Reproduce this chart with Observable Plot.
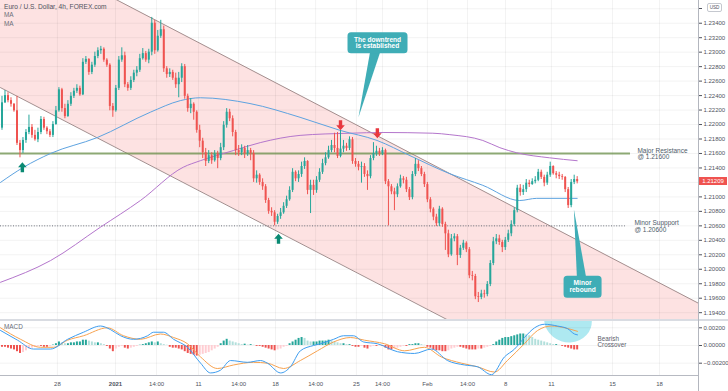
<!DOCTYPE html>
<html><head><meta charset="utf-8">
<script src="https://cdn.jsdelivr.net/npm/d3@7"></script>
<script src="https://cdn.jsdelivr.net/npm/@observablehq/plot@0.6"></script>
<style>
html,body{margin:0;padding:0;background:#fff;}
#wrap{position:relative;width:728px;height:391px;overflow:hidden;font-family:"Liberation Sans",Arial,sans-serif;}
#wrap svg{position:absolute;left:0;}
.lbl{position:absolute;white-space:nowrap;line-height:1;}
</style></head><body>
<div id="wrap"></div>
<script>
// ---------- DATA ----------
const firstOpen = 1.2195;
const closes = [
1.2230,1.2240,1.2233,1.2228,1.2219,1.2174,1.2164,1.2178,1.2189,1.2196,
1.2185,1.2179,1.2189,1.2207,1.2195,1.2190,1.2185,1.2200,1.2219,1.2248,
1.2222,1.2211,1.2228,1.2239,1.2246,1.2250,1.2241,1.2286,1.2290,1.2272,
1.2282,1.2294,1.2302,1.2304,1.2289,1.2282,1.2225,1.2219,1.2250,1.2289,
1.2295,1.2255,1.2250,1.2261,1.2271,1.2275,1.2291,1.2298,1.2289,1.2300,
1.2340,1.2302,1.2322,1.2331,1.2277,1.2269,1.2272,1.2264,1.2255,1.2264,
1.2280,1.2239,1.2222,1.2228,1.2217,1.2192,1.2177,1.2161,1.2149,1.2157,
1.2150,1.2159,1.2153,1.2168,1.2199,1.2217,1.2208,1.2189,1.2164,1.2161,
1.2167,1.2160,1.2164,1.2160,1.2125,1.2130,1.2120,1.2114,1.2095,1.2080,
1.2078,1.2065,1.2073,1.2078,1.2087,1.2096,1.2109,1.2134,1.2125,1.2131,
1.2142,1.2149,1.2109,1.2116,1.2109,1.2123,1.2134,1.2146,1.2154,1.2164,
1.2171,1.2167,1.2156,1.2166,1.2170,1.2167,1.2179,1.2149,1.2145,1.2141,
1.2142,1.2131,1.2128,1.2153,1.2160,1.2163,1.2160,1.2164,1.2121,1.2114,
1.2107,1.2103,1.2114,1.2125,1.2123,1.2110,1.2099,1.2131,1.2145,1.2139,
1.2131,1.2117,1.2096,1.2083,1.2072,1.2063,1.2083,1.2062,1.2049,1.2020,
1.2042,1.2045,1.2019,1.2029,1.2036,1.2027,1.1991,1.1990,1.1962,1.1961,
1.1966,1.1965,1.1979,1.2008,1.2038,1.2042,1.2037,1.2030,1.2040,1.2049,
1.2062,1.2081,1.2112,1.2106,1.2110,1.2119,1.2117,1.2121,1.2123,1.2134,
1.2127,1.2119,1.2130,1.2142,1.2132,1.2130,1.2128,1.2127,1.2110,1.2088,
1.2120,1.2124,1.21209];
const highs = [
1.2239,1.2247,1.2244,1.2237,1.2229,1.2239,1.2178,1.2182,1.2193,1.2213,
1.2200,1.2192,1.2195,1.2211,1.2210,1.2197,1.2193,1.2204,1.2225,1.2251,
1.2250,1.2228,1.2233,1.2244,1.2250,1.2255,1.2253,1.2291,1.2294,1.2291,
1.2286,1.2300,1.2306,1.2308,1.2306,1.2291,1.2284,1.2229,1.2254,1.2294,
1.2306,1.2300,1.2258,1.2266,1.2275,1.2280,1.2297,1.2305,1.2301,1.2304,
1.2348,1.2344,1.2330,1.2344,1.2336,1.2280,1.2277,1.2275,1.2271,1.2272,
1.2284,1.2283,1.2242,1.2236,1.2230,1.2219,1.2199,1.2181,1.2167,1.2164,
1.2161,1.2164,1.2163,1.2174,1.2204,1.2222,1.2221,1.2212,1.2192,1.2171,
1.2172,1.2170,1.2171,1.2167,1.2164,1.2136,1.2132,1.2125,1.2117,1.2098,
1.2085,1.2081,1.2076,1.2084,1.2092,1.2101,1.2114,1.2139,1.2136,1.2136,
1.2148,1.2154,1.2150,1.2123,1.2123,1.2128,1.2139,1.2152,1.2161,1.2170,
1.2178,1.2188,1.2189,1.2192,1.2178,1.2174,1.2183,1.2182,1.2153,1.2149,
1.2148,1.2146,1.2136,1.2157,1.2175,1.2170,1.2167,1.2168,1.2166,1.2124,
1.2117,1.2112,1.2118,1.2130,1.2128,1.2127,1.2113,1.2135,1.2153,1.2150,
1.2142,1.2134,1.2120,1.2099,1.2085,1.2076,1.2087,1.2085,1.2065,1.2054,
1.2048,1.2049,1.2048,1.2033,1.2040,1.2038,1.2030,1.1997,1.1993,1.1968,
1.1971,1.1971,1.1983,1.2012,1.2044,1.2048,1.2047,1.2040,1.2044,1.2054,
1.2067,1.2085,1.2116,1.2117,1.2116,1.2124,1.2123,1.2125,1.2128,1.2138,
1.2137,1.2130,1.2134,1.2148,1.2143,1.2135,1.2134,1.2131,1.2128,1.2113,
1.2124,1.2130,1.2128];
const lows = [
1.2192,1.2229,1.2230,1.2224,1.2217,1.2171,1.2154,1.2160,1.2174,1.2186,
1.2181,1.2177,1.2175,1.2186,1.2192,1.2186,1.2182,1.2182,1.2199,1.2217,
1.2217,1.2208,1.2210,1.2225,1.2236,1.2243,1.2239,1.2240,1.2283,1.2268,
1.2269,1.2279,1.2291,1.2297,1.2286,1.2279,1.2219,1.2210,1.2217,1.2247,
1.2286,1.2251,1.2246,1.2247,1.2258,1.2266,1.2272,1.2289,1.2286,1.2284,
1.2295,1.2297,1.2300,1.2319,1.2272,1.2264,1.2265,1.2261,1.2250,1.2237,
1.2258,1.2235,1.2217,1.2215,1.2206,1.2188,1.2168,1.2153,1.2142,1.2146,
1.2145,1.2148,1.2139,1.2150,1.2164,1.2195,1.2204,1.2183,1.2157,1.2156,
1.2157,1.2153,1.2156,1.2150,1.2120,1.2119,1.2116,1.2109,1.2091,1.2076,
1.2073,1.2060,1.2062,1.2069,1.2076,1.2084,1.2094,1.2106,1.2121,1.2120,
1.2127,1.2138,1.2103,1.2077,1.2102,1.2105,1.2120,1.2131,1.2143,1.2152,
1.2161,1.2161,1.2153,1.2154,1.2161,1.2163,1.2164,1.2145,1.2141,1.2136,
1.2119,1.2127,1.2109,1.2125,1.2150,1.2156,1.2156,1.2157,1.2117,1.2060,
1.2103,1.2081,1.2099,1.2112,1.2118,1.2106,1.2095,1.2096,1.2128,1.2135,
1.2128,1.2113,1.2092,1.2078,1.2067,1.2059,1.2059,1.2058,1.2026,1.2016,
1.2018,1.2038,1.2005,1.2015,1.2026,1.2023,1.1987,1.1984,1.1958,1.1954,
1.1958,1.1960,1.1962,1.1976,1.2005,1.2034,1.2033,1.2023,1.2026,1.2037,
1.2045,1.2059,1.2078,1.2101,1.2102,1.2106,1.2113,1.2116,1.2118,1.2121,
1.2124,1.2114,1.2116,1.2127,1.2130,1.2125,1.2124,1.2123,1.2106,1.2084,
1.2085,1.2117,1.2118];

// moving averages (read at sample candles)
const maBlueX = [-0.5,7.2,16.2,31.8,49.5,59.5,66.2,82.8,99.5,112.8,125.2,136.2,149.5,160.5,172.8,178.5,192];
const maBlueV = [1.2120,1.2141,1.2160,1.2182,1.2217,1.2233,1.2237,1.2229,1.2210,1.2192,1.2178,1.2157,1.2132,1.2116,1.2095,1.2098,1.2098];
const maPurpleX = [-0.5,16.2,32.8,46.2,60.5,66.2,77.2,86.2,99.5,116.2,127.2,143.8,149.5,160.5,166.2,171.8,182.8,192];
const maPurpleV = [1.1982,1.2012,1.2058,1.2095,1.2141,1.2150,1.2164,1.2175,1.2185,1.2188,1.2189,1.2188,1.2186,1.2178,1.2168,1.2161,1.2154,1.2150];

// channel, levels
const channelX = [-0.5, 232.5];
const channelUpper = [1.2456, 1.1953];
const channelLower = [1.2251, 1.1750];
const resistance = 1.216, support = 1.206;
const resistanceEnd = 209.8, supportEnd = 208.1;
const lastPrice = 1.21209;

// MACD
const macdX = [-0.5,5.2,10.5,16.2,21.9,27.2,32.9,36.2,39.6,43.9,48.6,50.6,53.9,57.3,61.9,66.3,69.6,72.9,76.3,81.9,86.3,88.6,93,96.3,99.6,104,106.3,110.7,114,117.3,120.7,125.3,132,137.7,143.4,148.7,154.4,158.7,163.4,167.7,171.1,174.4,177.8,181.1,185.4,188.8,191.1,192.1];
const macdV = [0.0017,0.0006,-0.0004,-0.0004,0.0007,0.0015,0.0022,0.0018,0.0011,0.0007,0.0011,0.0015,0.0015,0.0007,-0.0002,-0.0020,-0.0031,-0.0028,-0.0017,-0.0019,-0.0017,-0.0020,-0.0031,-0.0024,-0.0006,0.0000,0.0002,0.0007,0.0011,0.0011,0.0004,0.0002,-0.0007,-0.0009,-0.0004,-0.0017,-0.0022,-0.0024,-0.0033,-0.0013,-0.0004,0.0009,0.0020,0.0024,0.0022,0.0019,0.0013,0.0012];
const signalX = [-0.5,6.2,12.9,17.2,21.9,27.2,35.2,40.6,46.2,52.9,57.3,61.9,66.3,71.9,77.3,84,88.6,94,99.6,105.3,110.7,116.3,121,127.7,134.4,141,146.7,153.4,158.7,164.4,168.7,174.4,178.8,183.4,187.8,192.1];
const signalV = [0.0020,0.0007,-0.0002,-0.0002,0.0006,0.0011,0.0020,0.0011,0.0007,0.0013,0.0009,0.0002,-0.0013,-0.0026,-0.0022,-0.0019,-0.0020,-0.0026,-0.0017,-0.0006,0.0004,0.0009,0.0006,0.0002,-0.0006,-0.0002,-0.0013,-0.0020,-0.0024,-0.0030,-0.0017,0.0002,0.0017,0.0022,0.0020,0.0016];
const histV = [
-0.0002,-0.0002,-0.0003,-0.0004,-0.0005,-0.0007,-0.0009,-0.0008,-0.0006,-0.0004,
-0.0003,-0.0002,-0.0001,-0.0001,-0.0002,-0.0002,-0.0001,0.00005,0.0002,0.0004,
0.0003,0.0002,0.0002,0.0003,0.0003,0.0004,0.0004,0.0006,0.0006,0.0005,
0.0004,0.0003,0.0003,0.0002,0.0001,-0.0001,-0.0004,-0.0007,-0.0004,-0.0002,
-0.0001,-0.0003,-0.0004,-0.0003,-0.0002,-0.0001,0.00003,0.0001,0.0002,0.0003,
0.0004,0.0003,0.0004,0.0002,0.0001,0.00003,-0.0002,-0.0003,-0.0003,-0.0004,
-0.0005,-0.0007,-0.0009,-0.0010,-0.0011,-0.0012,-0.0011,-0.0010,-0.0009,-0.0008,
-0.0006,-0.0004,-0.0002,0.0002,0.0005,0.0007,0.0005,0.0004,0.0003,0.0002,
0.0001,0.00015,0.00005,0.0001,0.00003,-0.0001,-0.0001,-0.0002,-0.0003,-0.0004,
-0.0005,-0.0006,-0.0005,-0.0004,-0.0002,-0.0001,0.0002,0.0004,0.0006,0.0008,
0.0009,0.0008,0.0005,0.0004,0.0004,0.0004,0.0005,0.0005,0.0005,0.0006,
0.0005,0.0004,0.0003,0.0002,0.0002,0.0001,0.0001,-0.0001,-0.0002,-0.0002,
-0.0001,-0.0003,-0.0004,-0.0002,-0.0001,-0.0001,-0.00003,-0.0001,-0.0003,-0.0005,
-0.0005,-0.0004,-0.0003,-0.0002,-0.0001,-0.0001,0.0001,0.0001,0.0002,0.0002,
0.0001,0.00003,-0.0002,-0.0003,-0.0005,-0.0006,-0.0006,-0.0007,-0.0007,-0.0006,
-0.0004,-0.0003,-0.0002,-0.0002,-0.0003,-0.0004,-0.0005,-0.0005,-0.0005,-0.0004,
-0.0004,-0.0003,-0.0002,-0.0001,0.0001,0.0004,0.0006,0.0008,0.0009,0.0009,
0.0010,0.0011,0.0012,0.0013,0.0013,0.0012,0.0011,0.0009,0.0007,0.0006,
0.0005,0.0004,0.0003,0.0002,0.0001,0.0001,0.00003,-0.0001,-0.0002,-0.0003,
-0.0004,-0.0005,-0.0005];

// ticks
const priceTicks = [1.194,1.196,1.198,1.200,1.202,1.204,1.206,1.208,1.210,1.212,1.214,1.216,1.218,1.220,1.222,1.224,1.226,1.228,1.230,1.232,1.234,1.236];
const priceLabelTicks = [1.194,1.196,1.198,1.200,1.202,1.204,1.206,1.208,1.210,1.212,1.214,1.216,1.218,1.220,1.222,1.224,1.226,1.228,1.230,1.232,1.234];
const macdTicks = [-0.002, 0, 0.002];
const xTickPos = [18.5,37.9,51.6,65.6,79.0,91.3,104.7,118.3,127.0,142.0,155.4,168.1,183.4,203.8,219.5];
const xTickLabels = ["28","2021","14:00","11","14:00","18","14:00","25","14:00","Feb","14:00","8","11","15","18"];

// annotations (data coordinates)
const upArrowX = [6.8, 92.3], upArrowP = [1.2141, 1.2042];
const downArrowX = [113.0, 125.3], downArrowP = [1.2199, 1.2188];
const calloutText = ["The downtrend\nis established", "Minor\nrebound"];
const calloutX = [125.35, 193.8], calloutP = [1.2313, 1.1976];
const calloutTipX = [119.0, 190.9], calloutTipP = [1.2210, 1.2083];
const levelText = ["Major Resistance\n@ 1.21600", "Minor Suppport\n@ 1.20600"];
const levelX = [212.1, 211.1], levelP = [1.2159, 1.2059];

// ---------- BUILD ----------
const FONT = '"Liberation Sans", Arial, sans-serif';
const UP = "#26a69a", DOWN = "#ef5350", TEAL = "#3fadb6", TXT = "#50535e";
const xDomain = [-0.5, 232.5];
const n = Math.min(closes.length, highs.length, lows.length);
const candles = [];
for (let i = 0; i < n; i++) {
  const o = i === 0 ? firstOpen : closes[i - 1], c = closes[i];
  candles.push({i, o, c, h: Math.max(highs[i], o, c), l: Math.min(lows[i], o, c), col: c >= o ? UP : DOWN});
}
const channel = channelX.map((x, k) => ({x, up: channelUpper[k], lo: channelLower[k]}));
const maBlue = maBlueX.map((x, k) => ({x, v: maBlueV[k]}));
const maPurple = maPurpleX.map((x, k) => ({x, v: maPurpleV[k]}));
const ups = upArrowX.map((x, k) => ({x, y: upArrowP[k]}));
const downs = downArrowX.map((x, k) => ({x, y: downArrowP[k]}));
const callouts = calloutText.map((t, k) => ({t, x: calloutX[k], y: calloutP[k], tx: calloutTipX[k], ty: calloutTipP[k]}));
const pointerHalf = [1.94, 1.75];
const pointers = callouts.flatMap((c, k) => [
  {id: k, x: c.x - pointerHalf[k], y: c.y}, {id: k, x: c.x + pointerHalf[k], y: c.y}, {id: k, x: c.tx, y: c.ty}]);
const levels = levelText.map((t, k) => ({t, x: levelX[k], y: levelP[k]}));

const upArrowSym = {draw(ctx) {
  ctx.moveTo(0, -5); ctx.lineTo(4.3, 0); ctx.lineTo(1.7, 0); ctx.lineTo(1.7, 5);
  ctx.lineTo(-1.7, 5); ctx.lineTo(-1.7, 0); ctx.lineTo(-4.3, 0); ctx.closePath();
}};
const downArrowSym = {draw(ctx) {
  ctx.moveTo(0, 5); ctx.lineTo(4.3, 0); ctx.lineTo(1.7, 0); ctx.lineTo(1.7, -5);
  ctx.lineTo(-1.7, -5); ctx.lineTo(-1.7, 0); ctx.lineTo(-4.3, 0); ctx.closePath();
}};
function roundRect(w, h, r) {
  return {draw(ctx) {
    const x0 = -w / 2, y0 = -h / 2, x1 = w / 2, y1 = h / 2;
    ctx.moveTo(x0 + r, y0); ctx.lineTo(x1 - r, y0); ctx.arcTo(x1, y0, x1, y0 + r, r);
    ctx.lineTo(x1, y1 - r); ctx.arcTo(x1, y1, x1 - r, y1, r);
    ctx.lineTo(x0 + r, y1); ctx.arcTo(x0, y1, x0, y1 - r, r);
    ctx.lineTo(x0, y0 + r); ctx.arcTo(x0, y0, x0 + r, y0, r); ctx.closePath();
  }};
}

const main = Plot.plot({
  width: 728, height: 320, marginLeft: 0, marginRight: 30, marginTop: 0, marginBottom: 0,
  x: {domain: xDomain, axis: null},
  y: {domain: [1.19292, 1.23714]},
  color: {type: "identity"},
  style: {fontFamily: FONT, background: "transparent", overflow: "hidden"},
  marks: [
    Plot.areaY(channel, {x: "x", y1: "lo", y2: "up", fill: "#fde2e2", clip: true}),
    Plot.gridY(priceTicks, {stroke: "#000", strokeOpacity: 0.05}),
    Plot.gridX(xTickPos, {stroke: "#000", strokeOpacity: 0.05}),
    Plot.line(channel, {x: "x", y: "up", stroke: "#a38f8f", strokeWidth: 1, clip: true}),
    Plot.line(channel, {x: "x", y: "lo", stroke: "#a38f8f", strokeWidth: 1, clip: true}),
    Plot.ruleY([{y: resistance, x1: -0.5, x2: resistanceEnd}], {y: "y", x1: "x1", x2: "x2", stroke: "#6f9450", strokeOpacity: 0.78, strokeWidth: 2}),
    Plot.ruleY([{y: support, x1: -0.5, x2: supportEnd}], {y: "y", x1: "x1", x2: "x2", stroke: "#6f737e", strokeWidth: 1, strokeDasharray: "1,1.6"}),
    Plot.line(maPurple, {x: "x", y: "v", stroke: "#b476cc", strokeWidth: 1, curve: "monotone-x", clip: true}),
    Plot.line(maBlue, {x: "x", y: "v", stroke: "#5ea3e0", strokeWidth: 1, curve: "monotone-x", clip: true}),
    Plot.ruleX(candles, {x: "i", y1: "l", y2: "h", stroke: "col", strokeWidth: 1}),
    Plot.ruleX(candles, {x: "i", y1: "o", y2: "c", stroke: "col", strokeWidth: 2}),
    Plot.dot(ups, {x: "x", y: "y", symbol: upArrowSym, r: 5, fill: "#0a8a73"}),
    Plot.dot(downs, {x: "x", y: "y", symbol: downArrowSym, r: 5, fill: "#e8373f"}),
    Plot.line(pointers, {x: "x", y: "y", z: "id", fill: TEAL, stroke: "none"}),
    Plot.dot(callouts.slice(0, 1), {x: "x", y: "y", symbol: roundRect(60, 21, 3.5), r: 5, fill: TEAL}),
    Plot.dot(callouts.slice(1), {x: "x", y: "y", symbol: roundRect(38, 22, 3.5), r: 5, fill: TEAL}),
    Plot.text(callouts, {x: "x", y: "y", text: "t", fill: "white", fontSize: 6.6, fontWeight: 600, lineHeight: 1.05}),
    Plot.text(levels, {x: "x", y: "y", text: "t", textAnchor: "start", fill: "#4e5b68", fontSize: 6.5, lineHeight: 0.93}),
    Plot.axisY(priceLabelTicks, {anchor: "right", tickFormat: d => d.toFixed(5), tickSize: 3, tickPadding: 2, fontSize: 6, color: TXT})
  ]
});
main.style.top = "0px";

const histData = histV.map((v, i) => {
  const p = i > 0 ? histV[i - 1] : v;
  const col = v >= 0 ? (v >= p ? "#26a69a" : "#b2dfdb") : (v <= p ? "#ef5350" : "#ffcdd2");
  return {i, v, col};
});
const macdLine = macdX.map((x, k) => ({x, v: macdV[k]}));
const signalLine = signalX.map((x, k) => ({x, v: signalV[k]}));
const xLabels = xTickPos.map((x, k) => ({x, t: xTickLabels[k]}));
const macdFmt = d => (d < 0 ? "\u2212" : "") + Math.abs(d).toFixed(5);
const macdDomain = [-0.00339, 0.002825];

const macd = Plot.plot({
  width: 728, height: 71, marginLeft: 0, marginRight: 30, marginTop: 0, marginBottom: 16,
  x: {domain: xDomain, axis: null},
  y: {domain: macdDomain},
  color: {type: "identity"},
  style: {fontFamily: FONT, background: "transparent", overflow: "hidden"},
  marks: [
    Plot.gridY(macdTicks, {stroke: "#000", strokeOpacity: 0.05}),
    Plot.gridX(xTickPos, {stroke: "#000", strokeOpacity: 0.05}),
    Plot.ruleX(histData, {x: "i", y1: 0, y2: "v", stroke: "col", strokeWidth: 2}),
    Plot.line(signalLine, {x: "x", y: "v", stroke: "#f7a24f", strokeWidth: 1, curve: "monotone-x"}),
    Plot.line(macdLine, {x: "x", y: "v", stroke: "#3d9df0", strokeWidth: 1, curve: "monotone-x"}),
    Plot.text([{x: 198.8, y: 0.00034, t: "Bearish\nCrossover"}], {x: "x", y: "y", text: "t", textAnchor: "start", fill: "#5d606b", fontSize: 6.3, lineHeight: 0.95}),
    Plot.ruleY([macdDomain[0]], {stroke: "#b7bac2", strokeWidth: 1}),
    Plot.axisY(macdTicks, {anchor: "right", tickFormat: macdFmt, tickSize: 3, tickPadding: 2, fontSize: 6, color: TXT}),
    Plot.text(xLabels.filter(d => d.t !== "2021"), {x: "x", text: "t", frameAnchor: "bottom", dy: 10.5, fontSize: 6, fill: TXT}),
    Plot.text(xLabels.filter(d => d.t === "2021"), {x: "x", text: "t", frameAnchor: "bottom", dy: 10.5, fontSize: 6, fontWeight: "bold", fill: TXT})
  ]
});
macd.style.top = "320px";

// highlight ellipse behind the MACD lines
{
  const sx = macd.scale("x"), sy = macd.scale("y");
  const cx = sx.apply(189.1), cy = sy.apply(0.0028);
  d3.select(macd).insert("ellipse", "g")
    .attr("cx", cx).attr("cy", cy).attr("rx", 24).attr("ry", 22)
    .attr("transform", `rotate(18 ${cx} ${cy})`)
    .attr("fill", "#aee9f1");
}

const wrap = document.getElementById("wrap");
wrap.appendChild(main);
wrap.appendChild(macd);

function addDiv(html, css) {
  const d = document.createElement("div");
  d.className = "lbl"; d.innerHTML = html; d.style.cssText += css; wrap.appendChild(d); return d;
}
// separators and axis lines
addDiv("", "left:0;top:319px;width:728px;height:2px;background:#d9dce2;");
addDiv("", "left:698px;top:0;width:1px;height:391px;background:#b3b6be;");
// header texts
addDiv("Euro / U.S. Dollar, 4h, FOREX.com", `left:4px;top:4px;font-size:6.6px;color:${TXT};font-family:${FONT};`);
addDiv("MA", `left:4px;top:12.3px;font-size:6.4px;color:#6b6e79;font-family:${FONT};`);
addDiv("MA", `left:4px;top:20.6px;font-size:6.4px;color:#6b6e79;font-family:${FONT};`);
addDiv("MACD", `left:4px;top:324px;font-size:6.4px;color:#6b6e79;font-family:${FONT};`);
// axis tick stub + USD tag at the top of the price scale
addDiv("", "left:699px;top:8px;width:3px;height:1px;background:#50535e;");
addDiv("USD", `left:707px;top:3px;width:13px;height:7px;line-height:7px;text-align:center;font-size:4.6px;color:${TXT};background:#fff;border:1px solid #c5c8cf;border-radius:2px;font-family:${FONT};`);
// last price tag
{
  const yPx = main.scale("y").apply(lastPrice);
  addDiv(lastPrice.toFixed(5), `left:699px;top:${(yPx - 4).toFixed(1)}px;width:28px;height:8px;line-height:8px;text-align:center;font-size:6px;color:#fff;background:#ef5350;font-family:${FONT};`);
}
</script>
</body></html>
